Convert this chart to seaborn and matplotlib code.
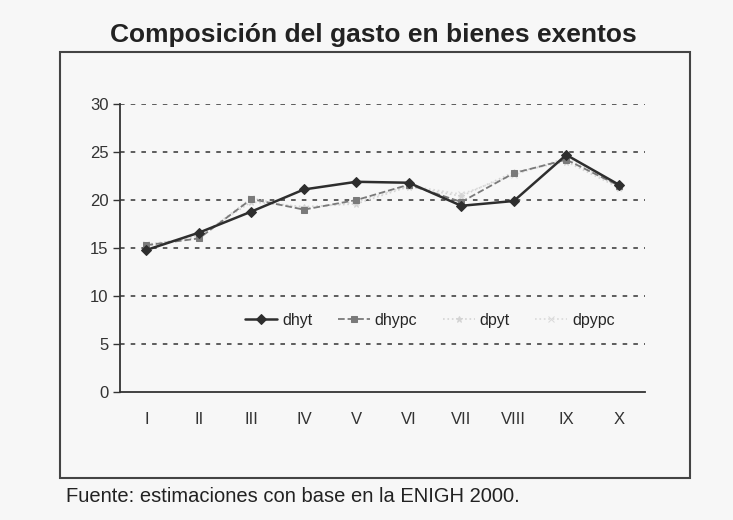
import pandas as pd
import matplotlib.pyplot as plt
import seaborn as sns
from matplotlib.patches import Rectangle

# Chart data
deciles = ["I", "II", "III", "IV", "V", "VI", "VII", "VIII", "IX", "X"]
dhyt = [14.8, 16.6, 18.8, 21.1, 21.9, 21.8, 19.4, 19.9, 24.7, 21.6]
dhypc = [15.3, 16.0, 20.1, 19.0, 20.0, 21.6, 19.8, 22.8, 24.2, 21.5]
dpyt = [15.2, 16.3, 19.8, 19.3, 19.6, 21.4, 20.4, 22.9, 24.0, 21.3]
dpypc = [15.4, 16.1, 20.2, 19.1, 19.8, 21.5, 20.6, 22.6, 24.4, 21.4]
y_ticks = [0, 5, 10, 15, 20, 25, 30]

TITLE = "Composición del gasto en bienes exentos"
SOURCE = "Fuente: estimaciones con base en la ENIGH 2000."

sns.set_style("white")
plt.rcParams["font.family"] = ["Liberation Sans", "DejaVu Sans"]

bg = "#f7f7f7"
fig = plt.figure(figsize=(7.33, 5.2), dpi=100, facecolor=bg)
ax = fig.add_axes([0.164, 0.246, 0.716, 0.554], facecolor=bg)

df = pd.DataFrame({"pos": range(len(deciles)), "dhyt": dhyt, "dhypc": dhypc,
                   "dpyt": dpyt, "dpypc": dpypc})

# series styles: (name, color, linestyle, marker, linewidth)
series = [
    ("dpypc", "#dadada", ":", "x", 1.2),
    ("dpyt", "#d4d4d4", ":", "*", 1.2),
    ("dhypc", "#7a7a7a", "--", "s", 1.3),
    ("dhyt", "#2e2e2e", "-", "D", 1.8),
]
for name, color, ls, mk, lw in series:
    sns.lineplot(data=df, x="pos", y=name, ax=ax, color=color, linestyle=ls,
                 marker=mk, markersize=5, linewidth=lw, label=name,
                 markeredgecolor=color)

# dashed gridlines
for v in y_ticks[1:]:
    ax.axhline(v, color="#333333", linestyle=(0, (3, 4)), linewidth=1.1, zorder=0)

ax.set_xlim(-0.5, len(deciles) - 0.5)
ax.set_ylim(0, 30)
ax.set_yticks(y_ticks)
ax.set_xticks(range(len(deciles)))
ax.set_xticklabels(deciles)
ax.set_xticks([i - 0.5 for i in range(len(deciles) + 1)], minor=True)
ax.tick_params(axis="x", which="major", length=0, pad=14, labelsize=12, colors="#333333")
ax.tick_params(axis="x", which="minor", length=4, width=1, direction="out", color="#333333")
ax.tick_params(axis="y", length=5, width=1, direction="out", labelsize=12,
               colors="#333333", left=True)
ax.set_xlabel("")
ax.set_ylabel("")
for side in ["top", "right"]:
    ax.spines[side].set_visible(False)
for side in ["left", "bottom"]:
    ax.spines[side].set_color("#333333")
    ax.spines[side].set_linewidth(1.3)

# legend in the original order
handles, labels = ax.get_legend_handles_labels()
order = ["dhyt", "dhypc", "dpyt", "dpypc"]
h = [handles[labels.index(n)] for n in order]
ax.legend(h, order, loc="center", bbox_to_anchor=(0.59, 0.25), ncol=4,
          frameon=False, fontsize=11.5, handlelength=2.0, columnspacing=1.6,
          handletextpad=0.3)

# outer frame of the chart
fig.patches.append(Rectangle((0.082, 0.081), 0.859, 0.819, transform=fig.transFigure,
                             fill=False, edgecolor="#444444", linewidth=1.5))

fig.text(0.51, 0.932, TITLE, ha="center", va="center", fontsize=19,
         fontweight="bold", color="#222222")
fig.text(0.09, 0.045, SOURCE, ha="left", va="center", fontsize=14.5, color="#222222")

fig.savefig("out.png", dpi=100, facecolor=bg)
